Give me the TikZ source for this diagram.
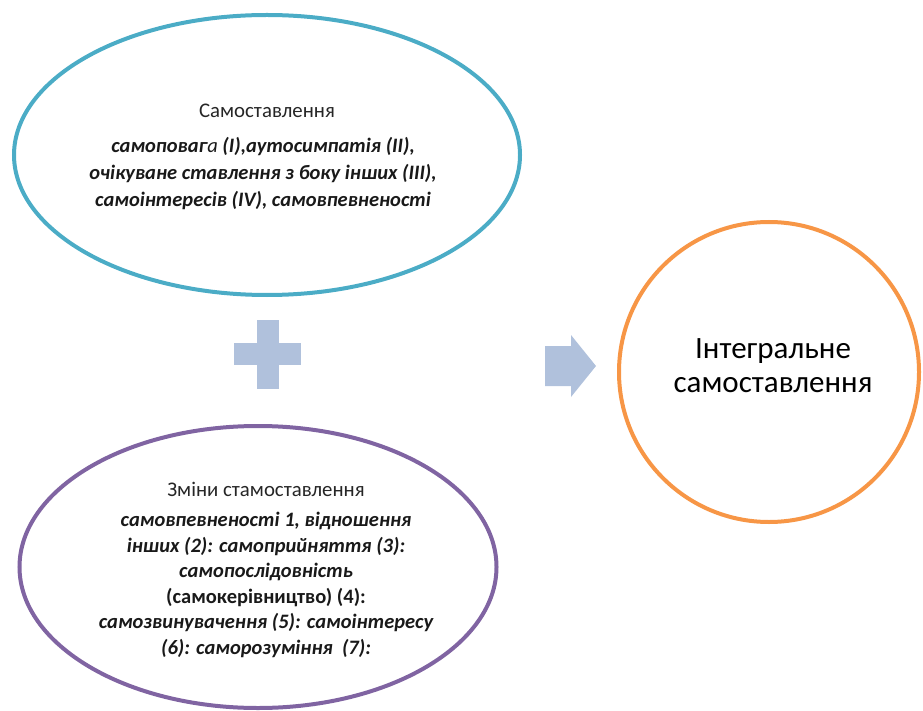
\documentclass[tikz,border=0pt]{standalone}
\usepackage{fontspec}
\setmainfont{Carlito}
\usetikzlibrary{shapes.geometric}
\definecolor{teal}{RGB}{75,172,198}
\definecolor{purp}{RGB}{128,100,162}
\definecolor{orng}{RGB}{247,150,70}
\definecolor{lblue}{RGB}{176,193,220}
\tikzset{
  oval/.style={ellipse,draw,line width=4pt,inner sep=0pt},
  title/.style={font=\fontsize{20.8}{24}\selectfont,text=black!85},
  body/.style={font=\fontsize{20.5}{27}\selectfont\bfseries\itshape,align=center,text=black!90},
}
\begin{document}
\begin{tikzpicture}[x=1pt,y=-1pt]
\useasboundingbox (0,0) rectangle (923,711);
% top ellipse
\node[oval,draw=teal,minimum width=506,minimum height=280] (top) at (267,155) {};
\node[title] (toptitle) at (267,111) {Самоставлення};
\node[body] (toptext) at (263,174) {самоповаг{\normalfont\itshape а} (I),аутосимпатія (II),\\очікуване ставлення з боку інших (III),\\самоінтересів (IV), самовпевненості};
% bottom ellipse
\node[oval,draw=purp,minimum width=477,minimum height=282] (bot) at (258,567) {};
\node[title] (bottitle) at (266,489) {Зміни стамоставлення};
\node[body,font=\fontsize{20.5}{25.6}\selectfont\bfseries\itshape] (bottext) at (266,585) {самовпевненості 1, відношення\\інших (2): самоприйняття (3):\\самопослідовність\\{\upshape (самокерівництво) (4):}\\самозвинувачення (5): самоінтересу\\(6): саморозуміння~ (7):};
% circle
\node[circle,draw=orng,line width=4pt,minimum size=300,inner sep=0pt] (res) at (769,372) {};
\node[font=\fontsize{31}{34}\selectfont,align=center] (restext) at (773,366) {Інтегральне\\самоставлення};
% plus
\fill[lblue] (257,320) rectangle (279,389);
\fill[lblue] (234,343) rectangle (301,365);
% arrow
\fill[lblue] (545,346) -- (571,346) -- (571,335) -- (596,366) -- (571,397) -- (571,386) -- (545,386) -- cycle;
\end{tikzpicture}
\end{document}
